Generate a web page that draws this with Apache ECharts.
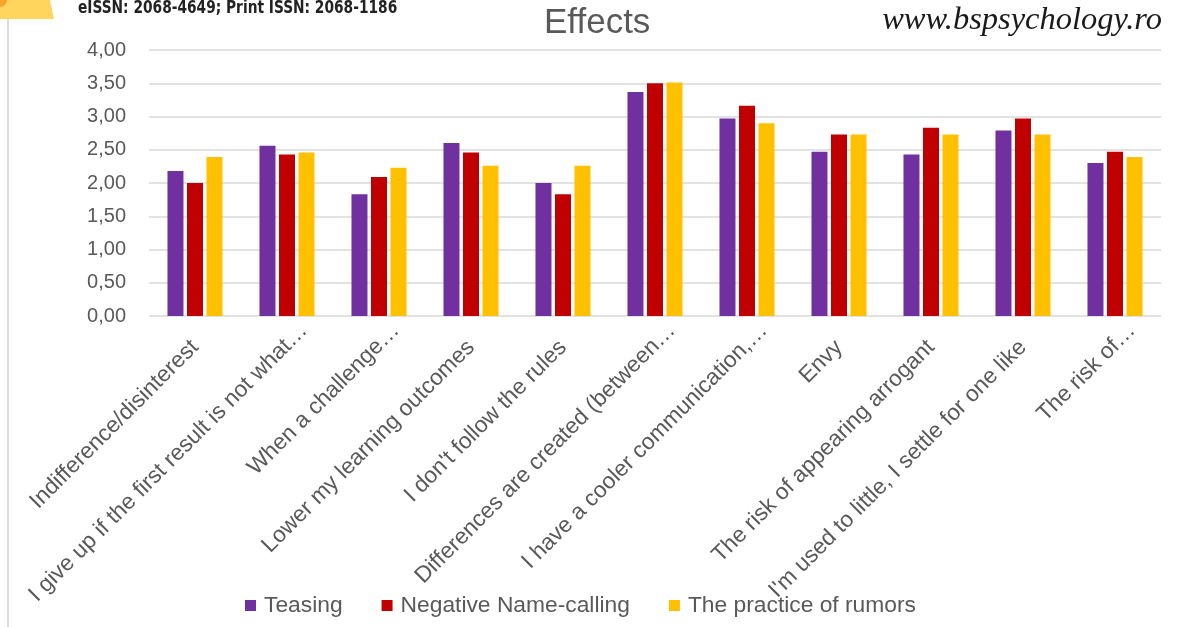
<!DOCTYPE html>
<html>
<head>
<meta charset="utf-8">
<script src="https://cdn.jsdelivr.net/npm/echarts@6/dist/echarts.min.js"></script>
<style>
  html, body { margin: 0; padding: 0; background: #ffffff; }
  #chart { width: 1185px; height: 627px; }
</style>
</head>
<body>
<div id="chart"></div>
<script>
// Categories (axis labels as shown, long ones shortened with an ellipsis)
const categories = [
  'Indifference/disinterest',
  'I give up if the first result is not what…',
  'When a challenge…',
  'Lower my learning outcomes',
  "I don't follow the rules",
  'Differences are created (between…',
  'I have a cooler communication,…',
  'Envy',
  'The risk of appearing arrogant',
  "I'm used to little, I settle for one like",
  'The risk of…'
];

// Mean scores per effect
const teasing     = [2.18, 2.56, 1.83, 2.60, 2.00, 3.37, 2.97, 2.47, 2.43, 2.79, 2.30];
const nameCalling = [2.00, 2.43, 2.09, 2.46, 1.83, 3.50, 3.16, 2.73, 2.83, 2.97, 2.47];
const rumors      = [2.39, 2.46, 2.23, 2.26, 2.26, 3.51, 2.90, 2.73, 2.73, 2.73, 2.39];

const seriesNames = ['Teasing', 'Negative Name-calling', 'The practice of rumors'];
const yTicks = { min: 0, max: 4, interval: 0.5 };

const chart = echarts.init(document.getElementById('chart'), null, { renderer: 'canvas' });

const grey = '#595959';
const font = 'Liberation Sans, Arial, sans-serif';

// Full labels end just past their category; truncated ones run a little further along the slant
const axisData = categories.map(name =>
  name.endsWith('…')
    ? { value: name, textStyle: { padding: [0, 0, 0, 0], verticalAlign: 'top', lineHeight: 48 } }
    : name
);

chart.setOption({
  backgroundColor: '#ffffff',
  animation: false,
  title: {
    text: 'Effects',
    left: 544,
    top: 6,
    padding: 0,
    textStyle: { fontFamily: font, fontSize: 35, fontWeight: 'normal', color: grey }
  },
  graphic: [
    // journal badge in the top-left corner
    { type: 'polygon', shape: { points: [[0, 0], [50, 0], [54, 19], [0, 19]] },
      style: { fill: '#FFD55E' }, z: 10 },
    { type: 'circle', shape: { cx: 0, cy: 0, r: 7 }, style: { fill: '#F6A52C' }, z: 11 },
    { type: 'line', shape: { x1: 8, y1: 19, x2: 8, y2: 627 },
      style: { stroke: '#dcdcdc', lineWidth: 2 }, z: 10 },
    { type: 'text', x: 78, y: 0, scaleX: 0.9,
      style: { text: 'eISSN: 2068-4649; Print ISSN: 2068-1186',
               font: 'bold 17px "DejaVu Sans Condensed", "DejaVu Sans", sans-serif',
               fill: '#222222' }, z: 10 },
    { type: 'text', right: 23, top: 4,
      style: { text: 'www.bspsychology.ro',
               font: 'italic 32.5px "Liberation Serif", "Times New Roman", serif',
               fill: '#1a1a1a' }, z: 10 }
  ],
  legend: {
    data: seriesNames,
    left: 245,
    top: 594,
    padding: 0,
    icon: 'rect',
    itemWidth: 11,
    itemHeight: 11,
    itemGap: 39,
    textStyle: { fontFamily: font, fontSize: 22.8, color: grey, padding: [0, 0, 0, 3] }
  },
  grid: { left: 149, right: 24, top: 50, bottom: 311, containLabel: false, outerBoundsMode: 'none' },
  xAxis: {
    type: 'category',
    data: axisData,
    axisLine: { show: false },
    axisTick: { show: false },
    axisLabel: {
      interval: 0,
      rotate: 45,
      margin: -6,
      verticalAlign: 'top',
      lineHeight: 48,
      padding: [0, 24, 0, 0],
      fontFamily: font,
      fontSize: 22.7,
      color: grey
    }
  },
  yAxis: {
    type: 'value',
    min: yTicks.min,
    max: yTicks.max,
    interval: yTicks.interval,
    axisLine: { show: false },
    axisTick: { show: false },
    splitLine: { lineStyle: { color: '#d9d9d9', width: 1.6 } },
    axisLabel: {
      margin: 23,
      fontFamily: font,
      fontSize: 20,
      color: grey,
      formatter: v => v.toFixed(2).replace('.', ',')
    }
  },
  series: [
    { name: seriesNames[0], type: 'bar', data: teasing, barWidth: 16, barGap: '22%',
      itemStyle: { color: '#7030A0' } },
    { name: seriesNames[1], type: 'bar', data: nameCalling, barWidth: 16, barGap: '22%',
      itemStyle: { color: '#C00000' } },
    { name: seriesNames[2], type: 'bar', data: rumors, barWidth: 16, barGap: '22%',
      itemStyle: { color: '#FFC000' } }
  ]
});
</script>
</body>
</html>
